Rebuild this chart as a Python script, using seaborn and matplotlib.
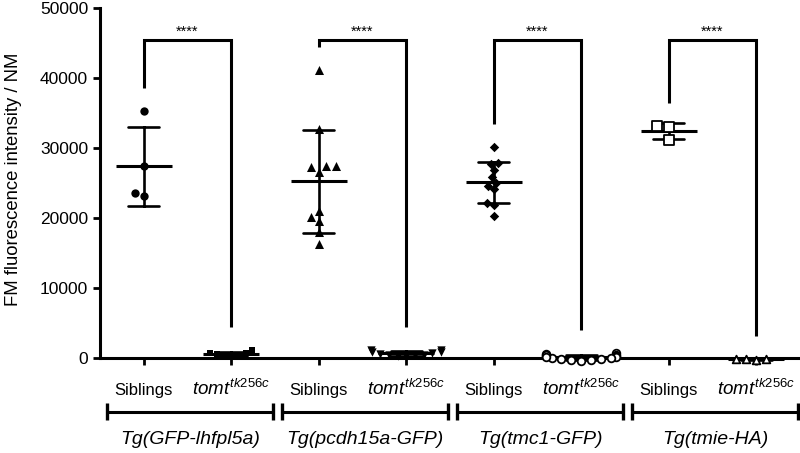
import numpy as np
import pandas as pd
import matplotlib
matplotlib.use("Agg")
import matplotlib.pyplot as plt
import seaborn as sns
from matplotlib.transforms import blended_transform_factory

sns.set_theme(style="ticks")
plt.rcParams["font.family"] = ["Liberation Sans", "DejaVu Sans"]
plt.rcParams["mathtext.fontset"] = "custom"
plt.rcParams["mathtext.it"] = "Liberation Sans:italic"
plt.rcParams["mathtext.rm"] = "Liberation Sans"
plt.rcParams["mathtext.default"] = "it"

# ---------------- data ----------------
lines = ["Tg(GFP-lhfpl5a)", "Tg(pcdh15a-GFP)", "Tg(tmc1-GFP)", "Tg(tmie-HA)"]
conditions = ["Siblings", "$tomt^{tk256c}$"]

sib_lhfpl5a = [35300, 27500, 23200, 23500]
tomt_lhfpl5a = [700, 500, 350, 300, 450, 600, 1050]

sib_pcdh15a = [41200, 32700, 27400, 27300, 26600, 27400, 21000, 19500, 20200, 18000, 16200]
tomt_pcdh15a = [1100, 800, 550, 400, 300, 250, 350, 450, 650, 850, 1100]

sib_tmc1 = [30100, 27900, 27700, 26800, 25800, 24600, 24100, 25000, 22200, 21900, 20300]
tomt_tmc1 = [600, 450, 300, 150, 0, -150, -300, -450, 500, 200, -100, -400, 350, 50, -250]

sib_tmie = [33100, 33000, 31100]
tomt_tmie = [-250, -300, -200, -250]

significance = ["****", "****", "****", "****"]
y_ticks = [0, 10000, 20000, 30000, 40000, 50000]

groups = [sib_lhfpl5a, tomt_lhfpl5a, sib_pcdh15a, tomt_pcdh15a,
          sib_tmc1, tomt_tmc1, sib_tmie, tomt_tmie]

rows = []
order = []
for gi, vals in enumerate(groups):
    key = f"{lines[gi // 2]}|{conditions[gi % 2]}"
    order.append(key)
    for v in vals:
        rows.append({"cond": key, "value": v})
df = pd.DataFrame(rows)

# ---------------- styles ----------------
marker_styles = ["o", "s", "^", "v", "D", "o", "s", "^"]
marker_filled = [True, True, True, True, True, False, False, False]
marker_sizes = [6, 5, 6.5, 6, 4.8, 5.5, 6.5, 5.5]

fig = plt.figure(figsize=(8, 4.53), dpi=100)
ax = fig.add_axes([0.125, 0.2104, 0.875, 0.7713])

sns.pointplot(data=df, x="cond", y="value", order=order, errorbar="sd",
              capsize=0.35, markers="_", linestyles="none", color="black",
              markersize=41, markeredgewidth=2.2,
              err_kws={"linewidth": 1.9}, ax=ax)

for i, key in enumerate(order):
    sub = df[df["cond"] == key]
    filled = marker_filled[i]
    sns.swarmplot(data=sub, x="cond", y="value", order=order,
                  marker=marker_styles[i], size=marker_sizes[i],
                  color="black" if filled else "white",
                  edgecolor="black", linewidth=0 if filled else 1.3,
                  ax=ax, zorder=5)

for c in ax.collections:
    c.set_clip_on(False)
for l in ax.lines:
    l.set_clip_on(False)

# significance brackets
top = 45500
gap = 3300
for k in range(4):
    xl, xr = 2 * k, 2 * k + 1
    yl = max(groups[2 * k]) + gap
    yr = max(groups[2 * k + 1]) + gap
    ax.plot([xl, xl, xr, xr], [yl, top, top, yr], color="black", lw=2.2,
            solid_joinstyle="miter", solid_capstyle="butt", zorder=2)
    ax.text((xl + xr) / 2, top + 150, significance[k], ha="center",
            va="bottom", fontsize=10.5, color="black")

ax.set_xlim(-0.5, 7.5)
ax.set_ylim(0, 50000)
ax.set_yticks(y_ticks, [str(v) for v in y_ticks])
ax.set_xticks(range(len(order)), [conditions[i % 2] for i in range(len(order))])
ax.set_xlabel("")
ax.set_ylabel("FM fluorescence intensity / NM", fontsize=13.3, color="black")
ax.yaxis.set_label_coords(-0.112, 0.51)

sns.despine(ax=ax)
for s in ["left", "bottom"]:
    ax.spines[s].set_linewidth(2.2)
    ax.spines[s].set_color("black")
ax.tick_params(axis="both", width=2, length=5, color="black",
               labelsize=12, labelcolor="black")
ax.tick_params(axis="y", labelsize=12.5)
ax.tick_params(axis="x", pad=22)
for i, lab in enumerate(ax.get_xticklabels()):
    lab.set_va("baseline")
    if i % 2 == 1:
        lab.set_fontsize(13.5)

# transgenic line group bars below the axis
trans = blended_transform_factory(ax.transData, ax.transAxes)
yb = -0.1545
cap = 0.024
for k in range(4):
    x0, x1 = 2 * k - 0.42, 2 * k + 1.48
    ax.plot([x0, x1], [yb, yb], color="black", lw=2.2, transform=trans,
            clip_on=False, solid_capstyle="butt")
    for xc in (x0, x1):
        ax.plot([xc, xc], [yb - cap, yb + cap], color="black", lw=2.4,
                transform=trans, clip_on=False, solid_capstyle="butt")
    ax.text(2 * k + 0.53, -0.2355, lines[k], transform=trans, ha="center",
            va="center", fontsize=14, fontstyle="italic", color="black")

fig.savefig("out.png", dpi=100, facecolor="white")
